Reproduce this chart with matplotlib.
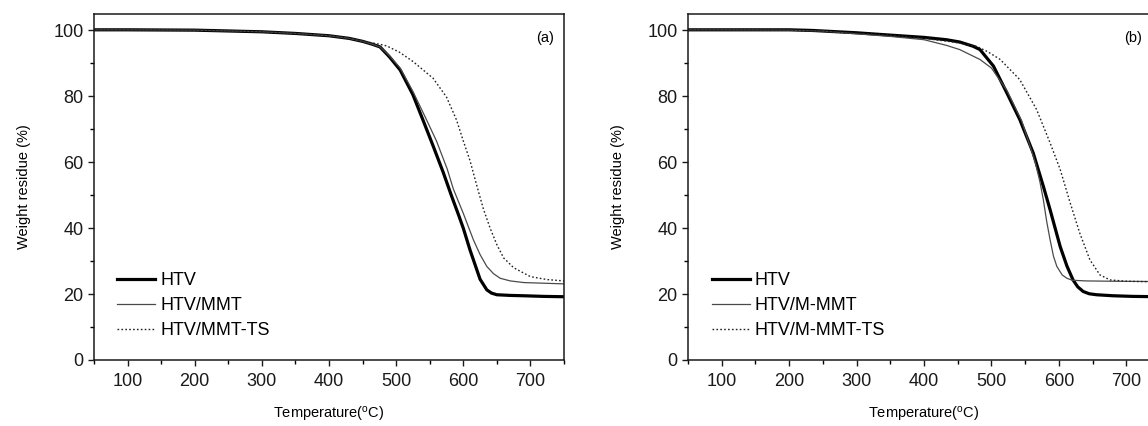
import matplotlib
matplotlib.use("Agg")
from matplotlib import pyplot as plt
from matplotlib.ticker import MultipleLocator

plt.rcParams['font.family'] = ['Liberation Sans', 'DejaVu Sans']

# panel (a)
a_htv_t = [50, 100, 200, 300, 350, 400, 430, 450, 465, 476, 490, 506, 525, 540, 555, 570,
           583, 593, 600, 610, 625, 635, 642, 650, 670, 689, 720, 750]
a_htv_w = [100.2, 100.2, 100.1, 99.6, 99.1, 98.4, 97.6, 96.7, 95.8, 95.0, 92.0, 88.0, 80.5, 72.8,
           65.0, 57.0, 49.5, 44.0, 40.0, 33.4, 24.5, 21.3, 20.3, 19.8, 19.6, 19.5, 19.3, 19.2]

a_mmt_t = [50, 100, 200, 300, 350, 400, 430, 450, 465, 476, 490, 506, 525, 545, 560, 576,
           585, 600, 615, 625, 635, 645, 655, 670, 690, 720, 750]
a_mmt_w = [100.2, 100.2, 100.1, 99.6, 99.1, 98.4, 97.6, 96.7, 95.8, 95.0, 92.3, 88.6, 81.5, 73.0,
           66.5, 58.0, 52.0, 44.5, 36.5, 32.0, 28.4, 26.2, 24.8, 24.0, 23.5, 23.3, 23.1]

a_ts_t = [50, 100, 200, 300, 350, 400, 430, 450, 465, 476, 486, 505, 525, 555, 575, 590,
          600, 610, 620, 630, 640, 650, 660, 675, 700, 725, 750]
a_ts_w = [100.2, 100.2, 100.1, 99.6, 99.1, 98.4, 97.6, 96.8, 96.2, 95.8, 95.3, 93.4, 90.6, 85.5,
          79.8, 72.8, 66.5, 60.5, 53.0, 45.8, 40.0, 35.0, 31.0, 28.0, 25.3, 24.4, 24.0]

# panel (b)
b_htv_t = [50, 100, 200, 235, 300, 335, 400, 433, 453, 473, 483, 503, 523, 542, 562, 577,
           587, 602, 612, 621, 628, 636, 645, 656, 680, 710, 750]
b_htv_w = [100.2, 100.2, 100.2, 100.0, 99.3, 98.8, 97.9, 97.2, 96.5, 95.2, 94.2, 89.2, 81.0, 73.0,
           62.8, 52.7, 45.6, 34.4, 28.5, 24.3, 22.2, 20.8, 20.1, 19.8, 19.5, 19.3, 19.2]

b_mmt_t = [50, 100, 200, 250, 300, 350, 400, 433, 453, 483, 500, 523, 545, 565, 572, 577,
           582, 587, 592, 597, 605, 612, 620, 640, 680, 750]
b_mmt_w = [100.2, 100.2, 100.1, 99.8, 99.0, 98.2, 97.2, 95.5, 94.2, 91.2, 88.6, 81.8, 72.5, 60.0,
           54.0, 48.6, 42.0, 36.5, 31.5, 28.4, 25.8, 24.8, 24.2, 24.0, 23.9, 23.8]

b_ts_t = [50, 100, 200, 250, 300, 350, 400, 440, 460, 478, 495, 513, 542, 567, 587, 602,
          616, 631, 646, 661, 676, 700, 750]
b_ts_w = [100.2, 100.2, 100.1, 99.8, 99.2, 98.6, 97.6, 96.6, 95.9, 95.2, 93.5, 91.2, 85.1, 76.0,
          65.9, 57.8, 48.2, 38.5, 30.4, 25.8, 24.3, 23.9, 23.7]

labels_a = ["HTV", "HTV/MMT", "HTV/MMT-TS"]
labels_b = ["HTV", "HTV/M-MMT", "HTV/M-MMT-TS"]
x_ticks = [100, 200, 300, 400, 500, 600, 700]
y_ticks = [0, 20, 40, 60, 80, 100]

fig = plt.figure(figsize=(11.48, 4.26), dpi=100)
ax_a = fig.add_axes([94 / 1148, 66 / 426, 470 / 1148, 346 / 426])
ax_b = fig.add_axes([688 / 1148, 66 / 426, 472 / 1148, 346 / 426])


def draw_panel(ax, series, labels, tag, tag_x):
    styles = [dict(color='black', lw=2.3),
              dict(color='#4a4a4a', lw=0.9),
              dict(color='#222222', lw=1.0, ls=(0, (1.2, 1.6)))]
    for (t, w), lab, st in zip(series, labels, styles):
        ax.plot(t, w, label=lab, **st)
    ax.set_xlim(50, 750)
    ax.set_ylim(0, 105)
    ax.set_xticks(x_ticks)
    ax.set_yticks(y_ticks)
    ax.xaxis.set_minor_locator(MultipleLocator(50))
    ax.yaxis.set_minor_locator(MultipleLocator(10))
    ax.tick_params(which='major', direction='out', length=4.5, width=1.0,
                   labelsize=13, colors='#1a1a1a')
    ax.tick_params(axis='x', which='major', pad=5)
    ax.tick_params(axis='y', which='major', pad=3)
    ax.tick_params(which='minor', direction='out', length=3, width=1.0)
    for sp in ax.spines.values():
        sp.set_linewidth(1.1)
        sp.set_color('#1a1a1a')
    ax.set_xlabel("Temperature($\\mathregular{^{o}}$C)", fontsize=10.5, labelpad=11)
    ax.set_ylabel("Weight residue (%)", fontsize=10.5, labelpad=16)
    ax.text(tag_x, 0.93, tag, transform=ax.transAxes, fontsize=10.5, ha='center', va='center')
    ax.legend(loc='lower left', bbox_to_anchor=(0.05, 0.06), frameon=False, fontsize=13,
              handlelength=2.1, handletextpad=0.3, labelspacing=0.45, borderpad=0,
              borderaxespad=0)


draw_panel(ax_a, [(a_htv_t, a_htv_w), (a_mmt_t, a_mmt_w), (a_ts_t, a_ts_w)], labels_a, "(a)", 0.96)
draw_panel(ax_b, [(b_htv_t, b_htv_w), (b_mmt_t, b_mmt_w), (b_ts_t, b_ts_w)], labels_b, "(b)", 0.943)

fig.savefig("out.png", dpi=100)
